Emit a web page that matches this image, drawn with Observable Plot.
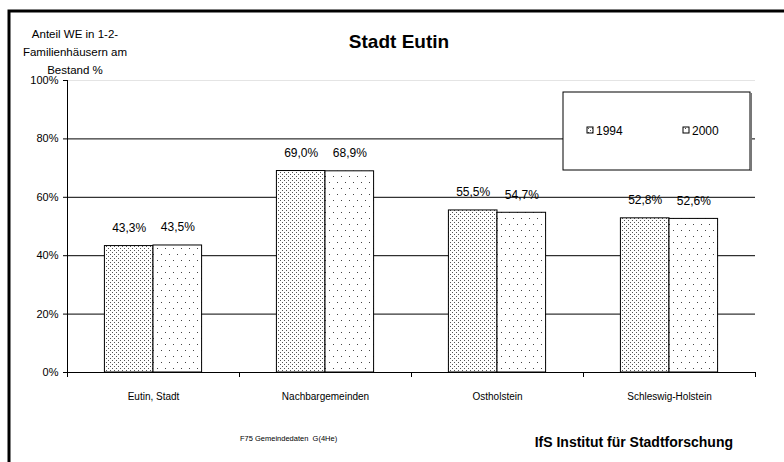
<!DOCTYPE html>
<html><head><meta charset="utf-8">
<script src="https://cdn.jsdelivr.net/npm/d3@7"></script>
<script src="https://cdn.jsdelivr.net/npm/@observablehq/plot@0.6"></script>
<style>body{margin:0;background:#fff}#chart{width:784px;height:462px}</style>
</head><body><div id="chart"></div>
<script>
const categories = ["Eutin, Stadt", "Nachbargemeinden", "Ostholstein", "Schleswig-Holstein"];
const years = ["1994", "2000"];
const values1994 = [43.3, 69.0, 55.5, 52.8];
const values2000 = [43.5, 68.9, 54.7, 52.6];
const yTicks = [0, 20, 40, 60, 80, 100];
const gridTicks = [20, 40, 60, 80];
const title = "Stadt Eutin";
const yTitle = ["Anteil WE in 1-2-", "Familienhäusern am", "Bestand %"];
const sourceNote = "F75 Gemeindedaten  G(4He)";
const credit = "IfS Institut für Stadtforschung";

const groupPad = 0.2175, barW = 0.2825;
const data = categories.flatMap((c, i) => years.map((yr, j) => ({
  cat: c, i, year: yr, j,
  value: j === 0 ? values1994[i] : values2000[i],
  x1: i + groupPad + j * barW,
  x2: i + groupPad + (j + 1) * barW
})));
const fmt = v => v.toFixed(1).replace(".", ",") + "%";
const font = "'Liberation Sans', Arial, sans-serif";

const svg = Plot.plot({
  width: 784, height: 462,
  marginLeft: 67, marginRight: 29, marginTop: 80, marginBottom: 90,
  style: {fontFamily: font, background: "white", color: "black"},
  x: {domain: [0, categories.length], axis: null},
  y: {domain: [0, 100], axis: null},
  marks: [
    Plot.ruleY([100], {stroke: "#e4e4e4"}),
    Plot.ruleY(gridTicks, {stroke: "black", strokeWidth: 1}),
    Plot.rectY(data.filter(d => d.year === "1994"), {x1: "x1", x2: "x2", y1: 0, y2: "value", fill: "url(#pat1994)", stroke: "black", strokeWidth: 1}),
    Plot.rectY(data.filter(d => d.year === "2000"), {x1: "x1", x2: "x2", y1: 0, y2: "value", fill: "url(#pat2000)", stroke: "black", strokeWidth: 1}),
    Plot.text(data, {x: d => (d.x1 + d.x2) / 2, y: "value", text: d => fmt(d.value), dy: -18, fontSize: 12, fill: "black"}),
    Plot.ruleY([0], {stroke: "black"}),
    Plot.ruleX([0], {stroke: "black"}),
    Plot.axisY({ticks: yTicks, tickFormat: d => d + "%", tickSize: 4, tickPadding: 5, fontSize: 11, anchor: "left", label: null}),
    Plot.axisX({ticks: d3.range(categories.length + 1), tickFormat: () => "", tickSize: 5, anchor: "bottom", label: null}),
    Plot.axisX({ticks: categories.map((c, i) => i + 0.5), tickFormat: d => categories[Math.floor(d)], tickSize: 0, tickPadding: 20, fontSize: 10, anchor: "bottom", label: null})
  ]
});

const s = d3.select(svg);
const defs = s.insert("defs", ":first-child");
const p1 = defs.append("pattern").attr("id", "pat1994").attr("patternUnits", "userSpaceOnUse").attr("width", 4).attr("height", 4);
p1.append("rect").attr("width", 4).attr("height", 4).attr("fill", "white");
p1.append("rect").attr("x", 0).attr("y", 0).attr("width", 1).attr("height", 1).attr("fill", "#555");
p1.append("rect").attr("x", 2).attr("y", 2).attr("width", 1).attr("height", 1).attr("fill", "#555");
const p2 = defs.append("pattern").attr("id", "pat2000").attr("patternUnits", "userSpaceOnUse").attr("width", 8).attr("height", 12);
p2.append("rect").attr("width", 8).attr("height", 12).attr("fill", "white");
p2.append("rect").attr("x", 1).attr("y", 2).attr("width", 1).attr("height", 1).attr("fill", "#444");
p2.append("rect").attr("x", 5).attr("y", 8).attr("width", 1).attr("height", 1).attr("fill", "#444");

// frame
s.append("path").attr("d", "M9,462V11H784").attr("fill", "none").attr("stroke", "black").attr("stroke-width", 3);

// title
s.append("text").attr("x", 399).attr("y", 48).attr("text-anchor", "middle")
  .attr("font-family", font).attr("font-size", 19).attr("font-weight", "bold").text(title);

// y title
const yt = s.append("text").attr("text-anchor", "middle").attr("font-family", font).attr("font-size", 11.5);
yTitle.forEach((t, k) => yt.append("tspan").attr("x", 75).attr("y", 38 + k * 18).text(t));

// legend
const lg = s.append("g");
lg.append("rect").attr("x", 563).attr("y", 92).attr("width", 187).attr("height", 78).attr("fill", "white").attr("stroke", "black");
lg.append("line").attr("x1", 751).attr("x2", 751).attr("y1", 93).attr("y2", 171).attr("stroke", "#777").attr("stroke-width", 2);
years.forEach((yr, k) => {
  const x0 = 587 + k * 96;
  lg.append("rect").attr("x", x0).attr("y", 127).attr("width", 6).attr("height", 6)
    .attr("fill", k === 0 ? "url(#pat1994)" : "url(#pat2000)").attr("stroke", "black");
  lg.append("text").attr("x", x0 + 9).attr("y", 135).attr("text-anchor", "start")
    .attr("font-family", font).attr("font-size", 12).text(yr);
});

// footer
s.append("text").attr("x", 240).attr("y", 441).attr("text-anchor", "start")
  .attr("font-family", font).attr("font-size", 7.5).text(sourceNote);
s.append("text").attr("x", 733).attr("y", 447).attr("text-anchor", "end").attr("font-family", font)
  .attr("font-size", 14).attr("font-weight", "bold").text(credit);

document.getElementById("chart").appendChild(svg);
</script></body></html>
